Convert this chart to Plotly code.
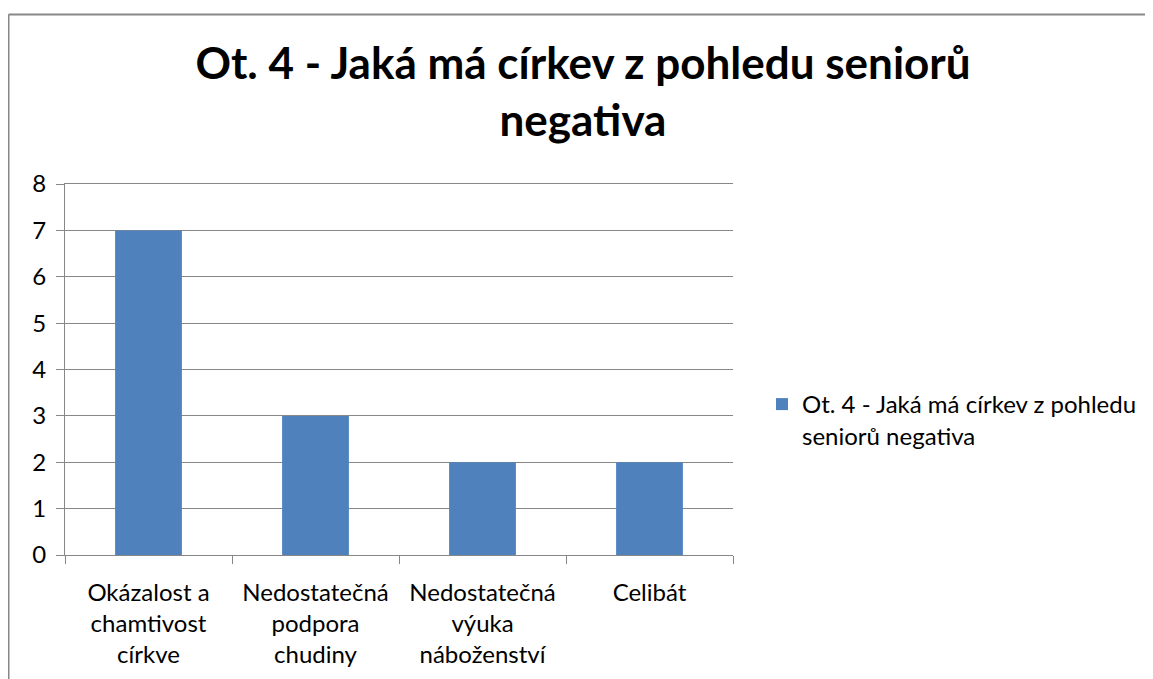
import plotly.graph_objects as go

categories = ["Okázalost a<br>chamtivost<br>církve",
              "Nedostatečná<br>podpora<br>chudiny",
              "Nedostatečná<br>výuka<br>náboženství",
              "Celibát"]
values = [7, 3, 2, 2]
series_name = "Ot. 4 - Jaká má církev z pohledu<br>seniorů negativa"
title_text = "Ot. 4 - Jaká má církev z pohledu seniorů<br>negativa"
y_ticks = [0, 1, 2, 3, 4, 5, 6, 7, 8]

# page has an 8px body margin; work in page coordinates and convert
OFF = 8
W, H = 1153 - OFF, 679 - OFF
PL, PR, PT, PB = 65, 733, 184, 555  # plot area in page pixels
L, T = PL - OFF, PT - OFF
R, B = W - (PR - OFF), H - (PB - OFF)
pw, ph = PR - PL, PB - PT

def px_x(x):
    return (x - PL) / pw

def px_y(y):
    return (PB - y) / ph

grid = "#878787"
font = "Lato, Carlito, Calibri, sans-serif"

fig = go.Figure()
fig.add_trace(go.Bar(x=categories, y=values, name=series_name,
                     marker=dict(color="#4F81BD", line=dict(width=0)),
                     showlegend=True))

fig.update_layout(
    width=W, height=H,
    margin=dict(l=L, r=R, t=T, b=B, autoexpand=False),
    paper_bgcolor="white", plot_bgcolor="white",
    font=dict(family=font, size=24, color="black"),
    title=dict(text="<b>" + title_text + "</b>", x=(583 - OFF) / W, xanchor="center",
               y=1 - (79 - OFF) / H, yanchor="top",
               font=dict(family=font, size=44, color="black")),
    bargap=0.6,
    showlegend=True,
    legend=dict(x=px_x(762), xanchor="left", y=px_y(382), yanchor="top",
                valign="top",
                font=dict(family=font, size=24, color="black"),
                bgcolor="rgba(0,0,0,0)", itemwidth=30),
    xaxis=dict(showgrid=False, showline=True, linecolor=grid, linewidth=1,
               mirror=True,
               ticks="outside", tickson="boundaries", ticklen=8, tickcolor=grid,
               ticklabelstandoff=16,
               tickfont=dict(family=font, size=24, color="black")),
    yaxis=dict(range=[0, 8], tickvals=y_ticks, showgrid=True, gridcolor=grid,
               gridwidth=1, showline=True, linecolor=grid, linewidth=1,
               ticks="outside", ticklen=8, tickcolor=grid, zeroline=False,
               ticklabelstandoff=5,
               tickfont=dict(family=font, size=24, color="black")),
)

# chart border (cropped on right and bottom in the reference)
fig.add_shape(type="line", xref="paper", yref="paper",
              x0=px_x(8.5), x1=px_x(1170), y0=px_y(14.5), y1=px_y(14.5),
              line=dict(color="#878787", width=2))
fig.add_shape(type="line", xref="paper", yref="paper",
              x0=px_x(8.5), x1=px_x(8.5), y0=px_y(14.5), y1=px_y(700),
              line=dict(color="#878787", width=2))

fig.write_html("out.html")
